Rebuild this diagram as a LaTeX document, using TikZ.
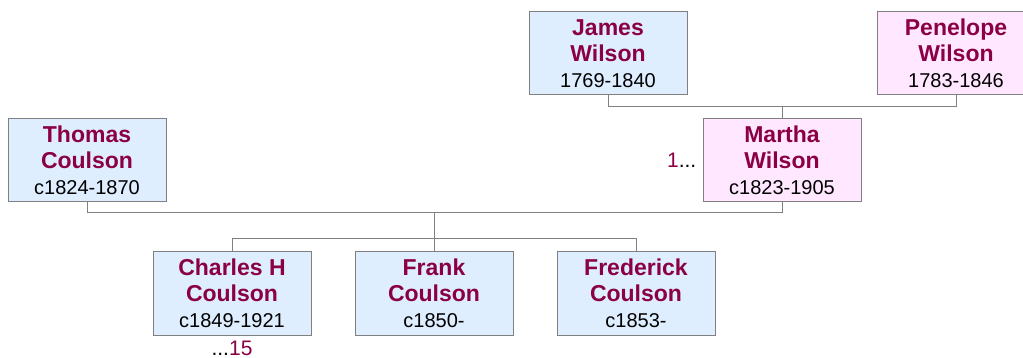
\documentclass[tikz,border=0pt]{standalone}
\usepackage{fontspec}
\setmainfont{Liberation Sans}
\usetikzlibrary{positioning,calc}

\definecolor{namered}{RGB}{139,0,69}
\definecolor{maleblue}{RGB}{222,238,255}
\definecolor{femalepink}{RGB}{255,232,255}
\definecolor{linegray}{RGB}{128,128,128}

\newcommand{\person}[3]{%
  {\fontsize{23}{26}\selectfont\bfseries\color{namered}#1}\\
  {\fontsize{23}{26}\selectfont\bfseries\color{namered}#2}\\
  {\fontsize{20}{26}\selectfont #3}}

\tikzset{
  personbox/.style={draw=linegray, line width=1pt, minimum width=158pt,
    minimum height=83pt, inner sep=0pt, align=center,
    font=\fontsize{20}{26}\selectfont},
  male/.style={personbox, fill=maleblue},
  female/.style={personbox, fill=femalepink},
  link/.style={draw=linegray, line width=1pt},
  more/.style={font=\fontsize{21}{24}\selectfont, inner sep=0pt}
}

\begin{document}
\begin{tikzpicture}[x=1pt,y=-1pt]
   \useasboundingbox (0,0) rectangle (1023,358);
   \clip (0,0) rectangle (1023,358);

   % grandparents
   \node[male] (james) at (608,53.5) {\person{James}{Wilson}{1769-1840}};
   \node[female] (penelope) at (956,53.5) {\person{Penelope}{Wilson}{1783-1846}};

   % parents
   \node[male] (thomas) at (87,160) {\person{Thomas}{Coulson}{c1824-1870}};
   \node[female] (martha) at (782,160) {\person{Martha}{Wilson}{c1823-1905}};
   \node[more, left=6pt of martha.west] (marthamore)
      {\textcolor{namered}{1}...};

   % children
   \node[male] (charles) at (232,293.5) {\person{Charles H}{Coulson}{c1849-1921}};
   \node[male] (frank) at (434,293.5) {\person{Frank}{Coulson}{c1850-}};
   \node[male] (frederick) at (636,293.5) {\person{Frederick}{Coulson}{c1853-}};
   \node[more, below=5pt of charles.south] (charlesmore)
      {...\textcolor{namered}{15}};

   % connectors
   \draw[link] (james.south) -- ++(0,11) coordinate (wilsonbar) -| (penelope.south);
   \draw[link] (martha.north) -- (martha.north |- wilsonbar);

   \draw[link] (thomas.south) -- ++(0,11) coordinate (coulsonbar) -| (martha.south);
   \coordinate (coulsonmid) at ($(thomas.south |- coulsonbar)!0.5!(martha.south |- coulsonbar)$);

   \draw[link] (charles.north) -- ++(0,-13) coordinate (kidsbar) -| (frederick.north);
   \draw[link] (coulsonmid) -- (coulsonmid |- frank.north);
\end{tikzpicture}
\end{document}
